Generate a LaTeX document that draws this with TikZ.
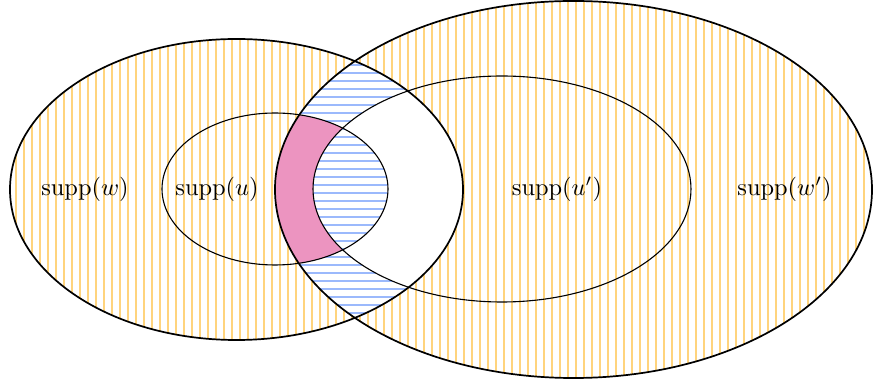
\documentclass[tikz,border=0pt]{standalone}
\usetikzlibrary{patterns.meta}
\definecolor{hatchorange}{RGB}{255,212,125}
\definecolor{hatchblue}{RGB}{155,185,252}
\definecolor{pinkfill}{RGB}{236,148,192}
\tikzset{
  vhatch/.style={pattern={Lines[angle=90,distance=3.28pt,line width=0.45pt]},pattern color=hatchorange},
  hhatch/.style={pattern={Lines[angle=0,distance=3.28pt,line width=0.45pt]},pattern color=hatchblue},
  bigoutline/.style={draw=black,line width=0.7pt},
  smalloutline/.style={draw=black,line width=0.45pt},
  lbl/.style={inner sep=0pt,font=\normalsize}
}
\def\wpath{(236.5,189.5) ellipse [x radius=92.87pt, y radius=61.71pt]}
\def\upath{(275,189) ellipse [x radius=46.33pt, y radius=31.16pt]}
\def\wppath{(573.5,189.5) ellipse [x radius=122.39pt, y radius=77.29pt]}
\def\uppath{(502,189) ellipse [x radius=77.49pt, y radius=46.33pt]}
\begin{document}
\begin{tikzpicture}[x=0.41pt,y=-0.41pt]
\useasboundingbox (0,0) rectangle (873,385);
% symmetric difference of w and w'
\fill[vhatch, even odd rule] \wpath \wppath;
% intersection of w and w'
\begin{scope}
  \clip \wpath;
  \fill[hhatch] \wppath;
\end{scope}
% (u' minus u) inside w : white
\begin{scope}
  \clip \wpath;
  \clip \uppath;
  \fill[white, even odd rule] \uppath \upath;
\end{scope}
% (u minus u') inside w' : pink
\begin{scope}
  \clip \upath;
  \clip \wppath;
  \fill[pinkfill, even odd rule] \upath \uppath;
\end{scope}
% outlines
\draw[bigoutline] \wpath;
\draw[bigoutline] \wppath;
\draw[smalloutline] \upath;
\draw[smalloutline] \uppath;
% labels
\node[lbl] (lw) at (85,189) {$\mathrm{supp}(w)$};
\node[lbl] (lu) at (217,189) {$\mathrm{supp}(u)$};
\node[lbl] (lup) at (557,189) {$\mathrm{supp}(u')$};
\node[lbl] (lwp) at (784.5,189) {$\mathrm{supp}(w')$};
\end{tikzpicture}
\end{document}
